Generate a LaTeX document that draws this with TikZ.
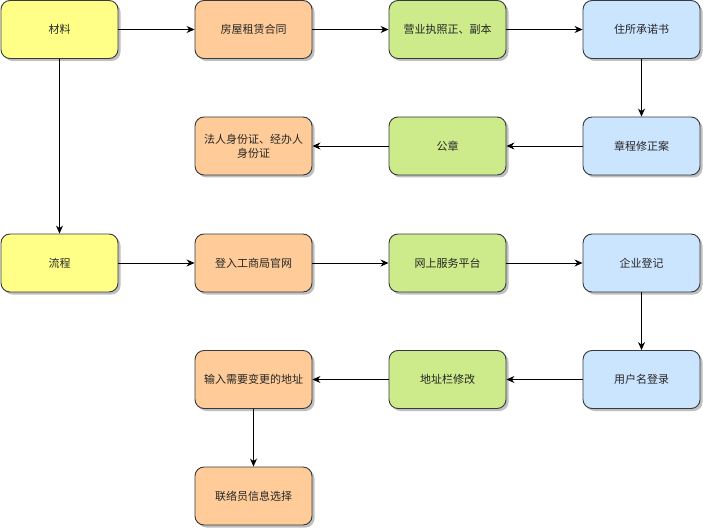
\documentclass[tikz,border=0pt]{standalone}
\usepackage{fontspec}
\setmainfont{Noto Sans CJK SC}
\usetikzlibrary{arrows.meta,shadows}
\definecolor{yfill}{HTML}{FFFF88}
\definecolor{ofill}{HTML}{FFCC99}
\definecolor{gfill}{HTML}{CDEB8B}
\definecolor{bfill}{HTML}{CCE5FF}
\definecolor{bstroke}{HTML}{36393D}
\tikzset{
  box/.style={draw=bstroke, line width=0.9pt, rounded corners=9pt,
    minimum width=117pt, minimum height=58pt, inner sep=2pt, align=center,
    font=\fontsize{11}{14}\selectfont, text=black!85,
    drop shadow={shadow xshift=2.5pt, shadow yshift=-2.5pt, opacity=0.25, fill=black}},
  yb/.style={box, fill=yfill},
  ob/.style={box, fill=ofill},
  gb/.style={box, fill=gfill},
  bb/.style={box, fill=bfill},
  conn/.style={draw=black, line width=0.9pt, -{Stealth[length=8pt,width=7pt]}}
}
\begin{document}
\begin{tikzpicture}[x=1pt,y=-1pt]
\useasboundingbox (0,0) rectangle (703,529);
% row 1
\node[yb] (cl) at (59.5,29.5) {材料};
\node[ob] (fw) at (253.5,29.5) {房屋租赁合同};
\node[gb] (yy) at (447.5,29.5) {营业执照正、副本};
\node[bb] (zs) at (641.5,29.5) {住所承诺书};
% row 2
\node[ob] (fr) at (253.5,146) {法人身份证、经办人\\身份证};
\node[gb] (gz) at (447.5,146) {公章};
\node[bb] (zc) at (641.5,146) {章程修正案};
% row 3
\node[yb] (lc) at (59.5,263) {流程};
\node[ob] (dr) at (253.5,263) {登入工商局官网};
\node[gb] (ws) at (447.5,263) {网上服务平台};
\node[bb] (qy) at (641.5,263) {企业登记};
% row 4
\node[ob] (sr) at (253.5,379.5) {输入需要变更的地址};
\node[gb] (dz) at (447.5,379.5) {地址栏修改};
\node[bb] (yh) at (641.5,379.5) {用户名登录};
% row 5
\node[ob] (ll) at (253.5,496) {联络员信息选择};
% connectors
\draw[conn] (cl) -- (fw);
\draw[conn] (fw) -- (yy);
\draw[conn] (yy) -- (zs);
\draw[conn] (zs) -- (zc);
\draw[conn] (zc) -- (gz);
\draw[conn] (gz) -- (fr);
\draw[conn] (cl) -- (lc);
\draw[conn] (lc) -- (dr);
\draw[conn] (dr) -- (ws);
\draw[conn] (ws) -- (qy);
\draw[conn] (qy) -- (yh);
\draw[conn] (yh) -- (dz);
\draw[conn] (dz) -- (sr);
\draw[conn] (sr) -- (ll);
\end{tikzpicture}
\end{document}
